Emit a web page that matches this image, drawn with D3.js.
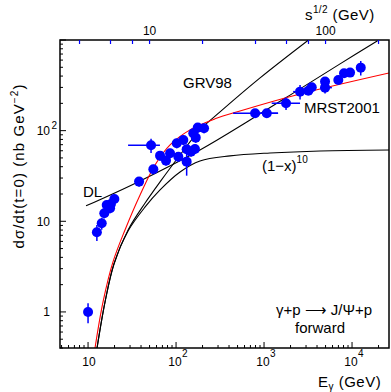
<!DOCTYPE html>
<html><head><meta charset="utf-8">
<script src="https://cdn.jsdelivr.net/npm/d3@7"></script>
<style>
body{margin:0;background:#fff}
svg{display:block}
text{font-family:"Liberation Sans",Arial,Helvetica,sans-serif;fill:#000}
</style>
</head><body>
<svg id="c" width="391" height="392"></svg>
<script>
// ---------- data ----------
const xDomain = [4.8, 26300];          // E_gamma (GeV)
const yDomain = [0.4, 1000];           // dsigma/dt (nb GeV^-2)
const xMajorTicks = [10, 100, 1000, 10000];
const xTickBase = ["10", "10", "10", "10"];
const xTickSup  = ["", "2", "3", "4"];
const yMajorTicks = [1, 10, 100];
const yTickBase = ["1", "10", "10"];
const yTickSup  = ["", "", "2"];
const sqrtSTicks = [4, 6, 8, 10, 20, 40, 60, 80, 100, 200];
const sqrtSLabels = ["", "", "", "10", "", "", "", "", "100", ""];

const energy = [10, 12.6, 14.3, 15.3, 16.3, 17.8, 18.2, 19.9, 38.0, 55.2, 52.0, 65.8, 76.9, 85.5, 101.9, 106.2, 121, 132, 132, 148, 164, 157, 167.5, 176.5, 208, 791, 1074, 1778, 2565, 3187, 3483, 4932, 4932, 6980, 8110, 9490, 12560];
const sigma  = [1.0, 7.56, 9.5, 12.25, 15.1, 13.9, 15.5, 17.6, 27.4, 37.5, 69.0, 53.0, 46.7, 56.3, 72.6, 51.6, 78.9, 62.3, 45.5, 58.7, 62.8, 93.6, 83.7, 108, 106.3, 155.6, 155.6, 200.6, 269.4, 276, 301, 298, 347.5, 362.7, 430, 436.6, 495.7];
const sigmaRelErr = [0.25, 0.2, 0.15, 0.12, 0.12, 0.12, 0.12, 0.12, 0.12, 0.12, 0.18, 0.12, 0.12, 0.12, 0.12, 0.12, 0.12, 0.12, 0.3, 0.12, 0.12, 0.12, 0.12, 0.12, 0.12, 0.1, 0.1, 0.16, 0.18, 0.1, 0.1, 0.14, 0.1, 0.1, 0.1, 0.1, 0.18];
const energyLo = {10: 28.5, 25: 445, 26: 900, 27: 1222, 28: 2140, 31: 4340};
const energyHi = {10: 65.6, 25: 1443, 26: 1443, 27: 2565, 28: 3300, 31: 5900};

const mrstCurve = [[12.0,0.40],[14.8,1.29],[19.2,3.56],[26.3,8.02],[39.0,19.5],[57.7,41.8],[85.5,69.5],[144,102],[277,135],[533,165],[2565,254],[26300,433]];
const grvCurve  = [[12.65,0.40],[15.6,1.29],[19.7,3.38],[28.5,8.02],[44.5,15.9],[65.8,27.2],[111,53.9],[187,102],[316,161],[901,382],[3200,1000]];
const oneMinusXCurve = [[12.65,0.40],[15.6,1.29],[19.7,3.38],[28.5,7.82],[44.5,14.4],[65.8,22.2],[111,35.0],[187,46.3],[411,52.7],[1169,56.7],[4325,59.7],[26300,61.2]];
const dlCurve   = [[9.49,14.8],[37.0,27.2],[187,61.2],[693,131],[2565,289],[7310,545],[19500,980]];

// ---------- drawing ----------
const svg = d3.select("#c");
const L = 60, R = 389, T = 40, B = 348;
const x = d3.scaleLog().domain(xDomain).range([L, R]);
const y = d3.scaleLog().domain(yDomain).range([B, T]);
const xs = d3.scaleLog().domain([Math.sqrt(2 * xDomain[0]), Math.sqrt(2 * xDomain[1])]).range([L, R]);

svg.append("defs").append("clipPath").attr("id", "clip")
  .append("rect").attr("x", L).attr("y", T).attr("width", R - L).attr("height", B - T);

const line = d3.line().x(d => x(d[0])).y(d => y(d[1])).curve(d3.curveCatmullRom.alpha(0.5));
const g = svg.append("g").attr("clip-path", "url(#clip)");
[[grvCurve, "#000"], [oneMinusXCurve, "#000"], [dlCurve, "#000"], [mrstCurve, "#f00"]].forEach(([c, col]) => {
  g.append("path").datum(c).attr("d", line).attr("fill", "none").attr("stroke", col).attr("stroke-width", 1.1);
});

// data points
const pts = svg.append("g");
energy.forEach((e, i) => {
  const s = sigma[i], r = sigmaRelErr[i];
  pts.append("line").attr("x1", x(e)).attr("x2", x(e)).attr("y1", y(s * (1 - r))).attr("y2", y(s * (1 + r)))
    .attr("stroke", "#0000ff").attr("stroke-width", 1.5);
  if (energyLo[i] !== undefined) {
    pts.append("line").attr("x1", x(energyLo[i])).attr("x2", x(energyHi[i])).attr("y1", y(s)).attr("y2", y(s))
      .attr("stroke", "#0000ff").attr("stroke-width", 1.5);
  }
});
energy.forEach((e, i) => {
  pts.append("circle").attr("cx", x(e)).attr("cy", y(sigma[i])).attr("r", 5).attr("fill", "#0000ff");
});

// frame
svg.append("rect").attr("x", L).attr("y", T).attr("width", R - L).attr("height", B - T)
  .attr("fill", "none").attr("stroke", "#000").attr("stroke-width", 1.5);

// minor/major ticks
function logTicks(dom) {
  const out = [];
  for (let p = Math.floor(Math.log10(dom[0])); p <= Math.ceil(Math.log10(dom[1])); p++) {
    for (let m = 1; m <= 9; m++) {
      const v = m * Math.pow(10, p);
      if (v >= dom[0] && v <= dom[1]) out.push({v, major: m === 1});
    }
  }
  return out;
}
const tk = svg.append("g").attr("stroke", "#000").attr("stroke-width", 1);
logTicks(xDomain).forEach(t => {
  const len = t.major ? 6 : 3;
  tk.append("line").attr("x1", x(t.v)).attr("x2", x(t.v)).attr("y1", B).attr("y2", B - len);
});
logTicks(yDomain).forEach(t => {
  const len = t.major ? 6 : 3;
  tk.append("line").attr("x1", L).attr("x2", L + len).attr("y1", y(t.v)).attr("y2", y(t.v));
});
sqrtSTicks.forEach(v => {
  svg.append("line").attr("x1", xs(v)).attr("x2", xs(v)).attr("y1", T).attr("y2", T + 4)
    .attr("stroke", "#0000ff").attr("stroke-width", 1.2);
});

// tick labels
xMajorTicks.forEach((v, i) => {
  const t = svg.append("text").attr("font-size", 12).attr("y", 366);
  if (xTickSup[i]) {
    t.attr("x", x(v) - 1).attr("text-anchor", "middle").text(xTickBase[i]);
    svg.append("text").attr("font-size", 10).attr("x", x(v) + 6).attr("y", 357).text(xTickSup[i]);
  } else {
    t.attr("x", x(v) + 1).attr("text-anchor", "middle").text(xTickBase[i]);
  }
});
yMajorTicks.forEach((v, i) => {
  svg.append("text").attr("font-size", 12).attr("x", 50).attr("y", y(v) + 4.5)
    .attr("text-anchor", "end").text(yTickBase[i]);
  if (yTickSup[i]) svg.append("text").attr("font-size", 10).attr("x", 51.5).attr("y", y(v) - 2).text(yTickSup[i]);
});
sqrtSTicks.forEach((v, i) => {
  if (sqrtSLabels[i]) svg.append("text").attr("font-size", 12).attr("x", xs(v)).attr("y", 35)
    .attr("text-anchor", "middle").text(sqrtSLabels[i]);
});

// axis titles
const yt = svg.append("text").attr("font-size", 15).attr("text-anchor", "middle")
  .attr("letter-spacing", "1.1px")
  .attr("transform", "translate(24,166) rotate(-90)");
yt.append("tspan").text("dσ/dt(t=0)  (nb GeV");
yt.append("tspan").attr("font-size", 10).attr("dy", -6).text("−2");
yt.append("tspan").attr("dy", 6).text(")");

const xt = svg.append("text").attr("font-size", 15).attr("x", 318).attr("y", 387).attr("letter-spacing", "0.5px");
xt.append("tspan").text("E");
xt.append("tspan").attr("font-size", 10).attr("dy", 3).text("γ");
xt.append("tspan").attr("dy", -3).text(" (GeV)");

const st = svg.append("text").attr("font-size", 15).attr("x", 305).attr("y", 20).attr("letter-spacing", "0.4px");
st.append("tspan").text("s");
st.append("tspan").attr("font-size", 10).attr("dy", -7).text("1/2");
st.append("tspan").attr("dy", 7).text(" (GeV)");

// annotations
svg.append("text").attr("font-size", 15).attr("x", 183).attr("y", 88).text("GRV98");
svg.append("text").attr("font-size", 15).attr("x", 304).attr("y", 113).text("MRST2001");
const om = svg.append("text").attr("font-size", 15).attr("x", 262).attr("y", 171);
om.append("tspan").text("(1−x)");
om.append("tspan").attr("font-size", 10).attr("dy", -8).text("10");
svg.append("text").attr("font-size", 15).attr("x", 83).attr("y", 197).text("DL");
svg.append("text").attr("font-size", 15).attr("x", 324).attr("y", 315).attr("text-anchor", "middle").text("γ+p ⟶ J/Ψ+p");
svg.append("text").attr("font-size", 15).attr("x", 320).attr("y", 333).attr("text-anchor", "middle").text("forward");
</script>
</body></html>
